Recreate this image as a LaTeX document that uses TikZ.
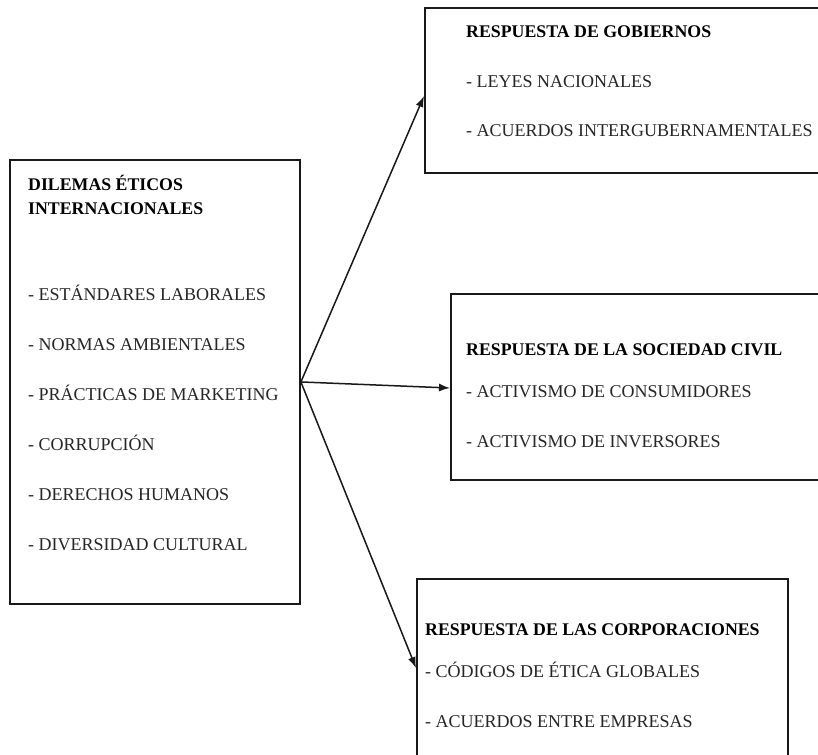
\documentclass[tikz,border=0pt]{standalone}
\usepackage{fontspec}
\setmainfont{Liberation Serif}
\usetikzlibrary{arrows.meta}
\begin{document}
\begin{tikzpicture}[x=1pt,y=-1pt,
  box/.style={draw=black!90, line width=1.9pt, rectangle, inner sep=0pt, anchor=north west},
  txt/.style={anchor=base west, inner sep=0pt, font=\fontsize{18}{22}\selectfont, text=black!85},
  ttl/.style={anchor=base west, inner sep=0pt, font=\fontsize{17.8}{22}\selectfont\bfseries, text=black},
  arr/.style={line width=1.5pt, draw=black!90, -{Latex[length=11pt,width=8pt]}}]
\fill[white] (0,0) rectangle (818,754);
\clip (0,0) rectangle (818,754);
% boxes
\node[box, minimum width=290pt, minimum height=444pt] (L) at (9,159) {};
\node[box, minimum width=430pt, minimum height=165pt] (G) at (424,7) {};
\node[box, minimum width=400pt, minimum height=186pt] (S) at (450,293) {};
\node[box, minimum width=371pt, minimum height=220pt] (C) at (416,578) {};
% left box text
\node[ttl] (l0) at (28,190) {DILEMAS ÉTICOS};
\node[ttl] (l1) at (28,214) {INTERNACIONALES};
\node[txt] (l2) at (28,300) {- ESTÁNDARES LABORALES};
\node[txt] (l3) at (28,350) {- NORMAS AMBIENTALES};
\node[txt] (l4) at (28,400) {- PRÁCTICAS DE MARKETING};
\node[txt] (l5) at (28,450) {- CORRUPCIÓN};
\node[txt] (l6) at (28,500) {- DERECHOS HUMANOS};
\node[txt] (l7) at (28,550) {- DIVERSIDAD CULTURAL};
% top box text
\node[ttl] (g0) at (466,38) {RESPUESTA DE GOBIERNOS};
\node[txt] (g1) at (466,88) {- LEYES NACIONALES};
\node[txt] (g2) at (466,137) {- ACUERDOS INTERGUBERNAMENTALES};
% middle box text
\node[ttl] (s0) at (466,355) {RESPUESTA DE LA SOCIEDAD CIVIL};
\node[txt] (s1) at (466,397) {- ACTIVISMO DE CONSUMIDORES};
\node[txt] (s2) at (466,447) {- ACTIVISMO DE INVERSORES};
% bottom box text
\node[ttl] (c0) at (425,635) {RESPUESTA DE LAS CORPORACIONES};
\node[txt] (c1) at (425,677) {- CÓDIGOS DE ÉTICA GLOBALES};
\node[txt] (c2) at (425,727) {- ACUERDOS ENTRE EMPRESAS};
% arrow end points
\coordinate (gt) at (424,96);
\coordinate (st) at (450,388);
\coordinate (ct) at (416,668);
\draw[arr] (L.east) -- (gt);
\draw[arr] (L.east) -- (st);
\draw[arr] (L.east) -- (ct);
\end{tikzpicture}
\end{document}
